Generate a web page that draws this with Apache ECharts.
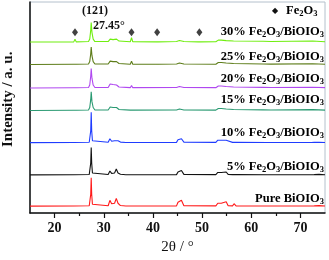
<!DOCTYPE html>
<html><head><meta charset="utf-8">
<script src="https://cdn.jsdelivr.net/npm/echarts@6/dist/echarts.min.js"></script>
<style>html,body{margin:0;padding:0;background:#fff}#c{width:329px;height:260px}</style>
</head><body><div id="c"></div>
<script>
// Series names (bottom to top)
var seriesNames = ['Pure BiOIO3','5% Fe2O3/BiOIO3','10% Fe2O3/BiOIO3','15% Fe2O3/BiOIO3','20% Fe2O3/BiOIO3','25% Fe2O3/BiOIO3','30% Fe2O3/BiOIO3'];
var seriesColors = ['#ff1a1a','#111111','#1f3cff','#2a9a72','#b048f0','#5e7d1a','#70ee10'];
// vertical stacking offsets (intensity units)
var offsets = [7, 39, 72, 105, 128, 152, 175];
var xTicks = [20, 30, 40, 50, 60, 70];
var xMinorTicks = [25, 35, 45, 55, 65];
var fe2o3Peaks = [24.15, 35.65, 40.85, 49.45];

// intensity points [2theta, relative intensity]
var pure = [[15,0],[24,0.2],[27.05,0.4],[27.2,2],[27.35,12],[27.45,29],[27.55,12],[27.7,2],[27.9,0.5],[30.9,0.4],[31.25,6],[31.6,2.5],[31.9,4],[32.2,3],[32.55,8],[32.9,3],[33.4,0.6],[34.5,0.2],[44.8,0.3],[45.1,4],[45.4,2.5],[45.8,6],[46.3,0.5],[52.8,0.3],[53.2,3],[53.5,1.5],[53.9,3],[54.3,1],[54.9,4.5],[55.3,0.5],[56.2,0.3],[56.5,2.5],[56.9,0.3],[63.3,0.2],[63.5,1],[63.7,0.2],[72.2,0.2],[72.5,1.5],[72.8,0.3],[73.8,0.5],[74.2,1],[75,0.2]];
var p5 = [[15,0],[24,0.2],[27.05,0.4],[27.2,2],[27.35,12],[27.45,28],[27.55,12],[27.7,2],[27.9,0.5],[30.9,0.4],[31.25,4],[31.6,1.5],[31.9,3],[32.2,2],[32.55,6],[32.9,2],[33.4,0.6],[34.5,0.2],[44.8,0.3],[45.1,3],[45.4,2],[45.8,4.5],[46.3,0.5],[52.8,0.3],[53.2,2.5],[53.5,1.2],[53.9,2.5],[54.3,1],[54.9,3],[55.3,0.5],[56.2,0.3],[56.5,2],[56.9,0.3],[63.3,0.2],[63.5,0.8],[63.7,0.2],[72.2,0.2],[72.5,1.5],[72.8,0.3],[73.8,0.5],[74.2,1],[75,0.2]];
var p10 = [[15,0],[24,0.2],[27.05,0.4],[27.2,2],[27.35,12],[27.45,31],[27.55,12],[27.7,2],[27.9,0.5],[30.9,0.4],[31.25,4],[31.6,1.5],[31.9,3.5],[32.2,2],[32.55,4],[32.9,2],[33.4,0.6],[34.5,0.2],[44.8,0.3],[45.1,3],[45.4,2],[45.8,4],[46.3,0.5],[52.8,0.3],[53.2,2.5],[53.5,1.2],[53.9,2.5],[54.3,1],[54.9,2.5],[55.3,0.5],[56.2,0.3],[56.5,2],[56.9,0.3],[63.3,0.2],[63.5,0.6],[63.7,0.2],[72.2,0.2],[72.5,1.2],[72.8,0.3],[73.8,0.4],[74.2,0.8],[75,0.2]];
var p15 = [[15,0],[23.9,0.2],[24.15,1.5],[24.4,0.2],[26.9,0.5],[27.15,3],[27.35,11],[27.45,19],[27.6,9],[27.85,3],[28.2,0.5],[30.9,0.5],[31.3,3.5],[31.6,2],[31.9,3],[32.2,1.5],[32.6,3],[33.1,1],[33.5,0.5],[35.4,0.3],[35.65,2],[35.9,0.3],[44.8,0.5],[45.1,2.5],[45.4,1.5],[45.8,3],[46.3,0.5],[52.8,0.3],[53.3,2],[53.6,1],[53.9,2],[54.3,0.8],[54.9,1.5],[55.3,0.5],[56.4,1],[56.8,0.3],[62.4,0.6],[64,0.4],[72.5,0.8],[75,0.3]];
var p20 = [[15,0],[23.9,0.2],[24.15,2],[24.4,0.2],[26.9,0.5],[27.15,3],[27.35,12],[27.45,20],[27.6,10],[27.85,3],[28.2,0.5],[30.9,0.5],[31.3,4],[31.6,2],[31.9,3.5],[32.2,1.5],[32.6,3],[33.1,1],[33.5,0.5],[35.4,0.3],[35.65,2.5],[35.9,0.3],[44.8,0.5],[45.1,2.5],[45.4,1.5],[45.8,3],[46.3,0.5],[52.8,0.3],[53.3,2],[53.6,1],[53.9,2],[54.3,0.8],[54.9,1.5],[55.3,0.5],[56.4,1],[56.8,0.3],[62.4,0.6],[64,0.4],[72.5,0.8],[75,0.3]];
var p25 = [[15,0],[23.9,0.2],[24.15,2],[24.4,0.2],[26.9,0.5],[27.15,3],[27.35,11],[27.45,18],[27.6,9],[27.85,3],[28.2,0.5],[30.9,0.5],[31.3,3.5],[31.6,2],[31.9,3],[32.2,1.5],[32.6,3],[33.1,1],[33.5,0.5],[35.4,0.3],[35.65,3.5],[35.9,0.3],[40.6,0.2],[40.85,0.8],[41.1,0.2],[44.8,0.5],[45.1,2.5],[45.4,1.5],[45.8,3],[46.3,0.5],[52.8,0.3],[53.3,2],[53.6,1],[53.9,2],[54.3,0.8],[54.9,1.5],[55.3,0.5],[56.4,1],[56.8,0.3],[62.4,0.6],[64,0.4],[72.5,0.8],[75,0.3]];
var p30 = [[15,0],[23.9,0.2],[24.15,3],[24.4,0.2],[26.9,0.5],[27.15,3],[27.35,12],[27.45,20],[27.6,10],[27.85,3],[28.2,0.5],[30.9,0.5],[31.3,3],[31.6,2],[31.9,2.5],[32.2,1.5],[32.6,3],[33.1,1],[33.5,0.5],[35.4,0.3],[35.65,4.5],[35.9,0.3],[40.6,0.2],[40.85,1],[41.1,0.2],[44.8,0.5],[45.1,2.5],[45.4,1.5],[45.8,3],[46.3,0.5],[49.2,0.2],[49.45,1],[49.7,0.2],[52.8,0.3],[53.3,2],[53.6,1],[53.9,2],[54.3,0.8],[54.9,1.5],[55.3,0.5],[56.4,1],[56.8,0.3],[62.4,0.8],[64,0.5],[72.5,1],[75,0.3]];
var patterns = [pure, p5, p10, p15, p20, p25, p30];

var F = '"Liberation Serif","Times New Roman",serif';
var subRich = {
  n: {fontFamily: F, fontWeight: 'bold', fontSize: 12.5, color: '#111'},
  s: {fontFamily: F, fontWeight: 'bold', fontSize: 8.5, color: '#111', padding: [6, 0, 0, 0]}
};
function richName(name) {
  return name.replace(/O(\d)/g, 'O{s|$1}').replace(/Fe(\d)/g, 'Fe{s|$1}')
    .split(/(\{s\|\d\})/).map(function (t) { return t.indexOf('{s|') === 0 ? t : (t ? '{n|' + t + '}' : ''); }).join('');
}

var series = patterns.map(function (pts, i) {
  return {
    type: 'line', name: seriesNames[i], showSymbol: false, silent: true,
    lineStyle: {color: seriesColors[i], width: 1.1},
    data: pts.map(function (p) { return [p[0], p[1] + offsets[i]]; })
  };
});
series.push({
  type: 'scatter', symbol: 'diamond', symbolSize: [6, 8], silent: true,
  itemStyle: {color: '#111'},
  data: fe2o3Peaks.map(function (x) { return [x, offsets[6] + 10]; })
});

var labelY = [200, 168, 134, 101, 80, 58, 33];
var graphics = seriesNames.map(function (n, i) {
  return {type: 'text', right: 5, top: labelY[i] - 8, style: {rich: subRich, text: richName(n)}};
});
graphics.push({type: 'text', left: 272, top: 7, style: {text: '\u25C6', fontSize: 8, fill: '#111'}});
graphics.push({type: 'text', left: 286, top: 4, style: {rich: subRich, text: richName('Fe2O3')}});
graphics.push({type: 'text', left: 82, top: 5, style: {text: '(121)', font: 'bold 12px ' + F, fill: '#111'}});
graphics.push({type: 'text', left: 93, top: 20, style: {text: '27.45\u00B0', font: 'bold 12px ' + F, fill: '#111'}});
graphics.push({type: 'text', x: 1, y: 147, rotation: Math.PI / 2, style: {text: 'Intensity / a. u.', font: 'bold 15px ' + F, fill: '#111'}});

var chart = echarts.init(document.getElementById('c'), null, {renderer: 'canvas'});
chart.setOption({
  animation: false,
  grid: {left: 30, right: 4, top: 2, bottom: 42, show: true, borderColor: '#b4c0cc', borderWidth: 1},
  xAxis: [{
    type: 'value', min: 15, max: 75, interval: 5,
    name: '2\u03B8 / \u00B0', nameLocation: 'middle', nameGap: 27,
    nameTextStyle: {fontFamily: F, fontSize: 15, color: '#111'},
    axisLine: {lineStyle: {color: '#111', width: 1.5}},
    axisTick: {show: true, length: 5, customValues: xTicks, lineStyle: {color: '#111', width: 1.2}},
    axisLabel: {customValues: xTicks, margin: 8, fontFamily: F, fontWeight: 'bold', fontSize: 14, color: '#111'},
    splitLine: {show: false}
  }, {
    type: 'value', min: 15, max: 75, interval: 5, position: 'bottom',
    axisLine: {show: false},
    axisTick: {show: true, length: 3, customValues: xMinorTicks, lineStyle: {color: '#111', width: 1.2}},
    axisLabel: {show: false}, splitLine: {show: false}
  }],
  yAxis: {
    type: 'value', min: 0, max: 216,
    axisLine: {show: true, lineStyle: {color: '#111', width: 1.5}},
    axisTick: {show: false}, axisLabel: {show: false}, splitLine: {show: false}
  },
  graphic: graphics,
  series: series
});
</script></body></html>
